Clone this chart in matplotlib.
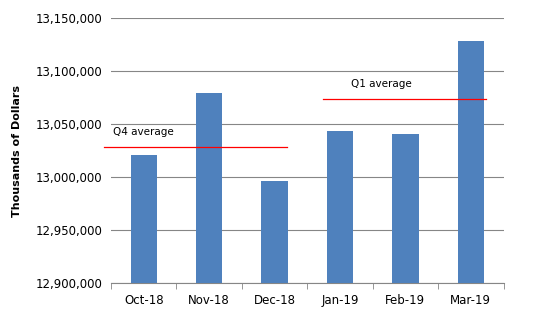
import matplotlib.pyplot as plt
from matplotlib.ticker import FuncFormatter, MultipleLocator

months = ['Oct-18', 'Nov-18', 'Dec-18', 'Jan-19', 'Feb-19', 'Mar-19']
values = [13021000, 13079500, 12996500, 13043700, 13040800, 13128600]
q4_average = 13028600
q1_average = 13073600

plt.rcParams['font.family'] = ['DejaVu Sans']

fig = plt.figure(figsize=(5.38, 3.24), dpi=100)
ax = fig.add_axes([0.2063, 0.1256, 0.7297, 0.818])

x = range(len(months))
ax.bar(x, values, width=0.4, color='#4f81bd', zorder=3)

ax.set_xlim(-0.5, len(months) - 0.5)
ax.set_ylim(12900000, 13150000)
ax.yaxis.set_major_locator(MultipleLocator(50000))
ax.yaxis.set_major_formatter(FuncFormatter(lambda v, p: f'{v:,.0f}'))
ax.grid(axis='y', color='#868686', linewidth=0.8, zorder=0)

ax.set_xticks(list(x))
ax.set_xticklabels(months)
ax.set_xticks([i - 0.5 for i in range(len(months) + 1)], minor=True)
ax.tick_params(axis='x', which='major', length=0, pad=8, labelsize=8.5)
ax.tick_params(axis='x', which='minor', length=4, color='#868686', direction='out')
ax.tick_params(axis='y', length=0, pad=6, labelsize=8.5)

for side in ['top', 'right', 'left']:
    ax.spines[side].set_visible(False)
ax.spines['bottom'].set_color('#868686')

ax.set_ylabel('Thousands of Dollars', fontsize=8, fontweight='bold', labelpad=10)

# quarter averages
ax.plot([-0.607, 2.19], [q4_average, q4_average], color='#ff0000', linewidth=0.9,
        clip_on=False, zorder=4)
ax.plot([2.74, 5.23], [q1_average, q1_average], color='#ff0000', linewidth=0.9,
        zorder=4)
ax.text(-0.47, 13042700, 'Q4 average', fontsize=7.5, va='center', ha='left')
ax.text(3.64, 13088000, 'Q1 average', fontsize=7.5, va='center', ha='center')

fig.savefig('out.png', dpi=100)
